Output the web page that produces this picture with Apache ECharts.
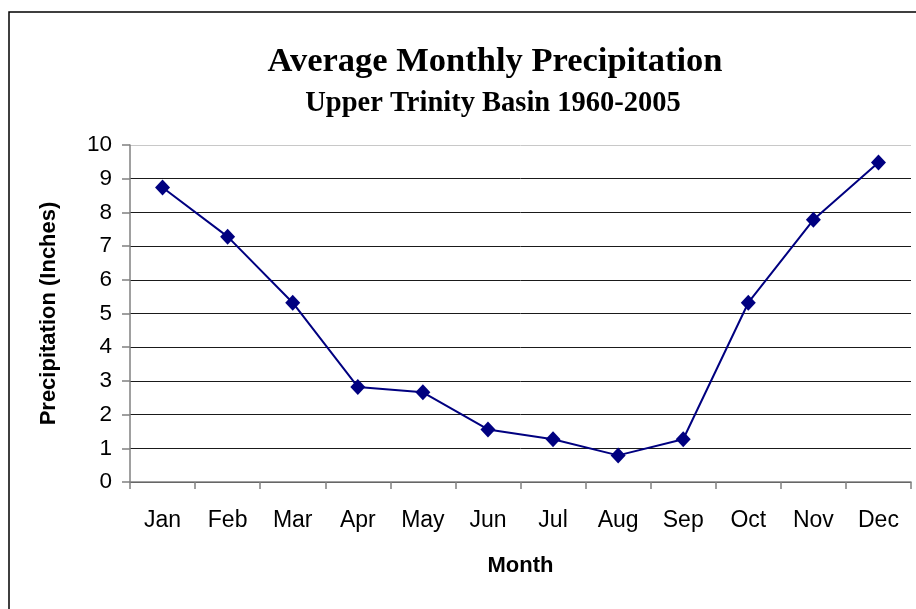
<!DOCTYPE html>
<html>
<head>
<meta charset="utf-8">
<script src="https://cdn.jsdelivr.net/npm/echarts@6/dist/echarts.min.js"></script>
<style>html,body{margin:0;padding:0;background:#fff;}#c{width:916px;height:609px;}</style>
</head>
<body>
<div id="c"></div>
<script>
const months = ['Jan','Feb','Mar','Apr','May','Jun','Jul','Aug','Sep','Oct','Nov','Dec'];
const precipitation = [8.74, 7.28, 5.32, 2.82, 2.66, 1.56, 1.27, 0.79, 1.27, 5.32, 7.78, 9.48];
const yTicks = [0,1,2,3,4,5,6,7,8,9,10];
const titleText = 'Average Monthly Precipitation';
const subtitleText = 'Upper Trinity Basin 1960-2005';

const chart = echarts.init(document.getElementById('c'), null, {renderer:'canvas'});
const gridColors = yTicks.map((v,i)=> i === yTicks.length-1 ? '#c8c8c8' : '#1a1a1a');
chart.setOption({
  animation:false,
  backgroundColor:'#fff',
  graphic:[
    {type:'rect', shape:{x:9,y:12,width:1000,height:700}, style:{fill:'none',stroke:'#000',lineWidth:1.5}, z:0},
    {type:'text', x:495, y:62, style:{text:titleText, font:'bold 34.5px "Liberation Serif"', fill:'#000', textAlign:'center', textVerticalAlign:'middle'}},
    {type:'text', x:493, y:104, style:{text:subtitleText, font:'bold 28.5px "Liberation Serif"', fill:'#000', textAlign:'center', textVerticalAlign:'middle'}}
  ],
  grid:{left:130, right:5, top:145, bottom:127, containLabel:false},
  xAxis:{
    type:'category', data:months, boundaryGap:true,
    name:'Month', nameLocation:'middle', nameGap:73,
    nameTextStyle:{fontFamily:'Liberation Sans', fontWeight:'bold', fontSize:22, color:'#000'},
    axisLine:{lineStyle:{color:'#808080', width:1.5}},
    axisTick:{show:true, interval:0, length:7, alignWithLabel:false, lineStyle:{color:'#808080', width:1.5}},
    axisLabel:{interval:0, margin:27, fontFamily:'Liberation Sans', fontSize:23, color:'#000'},
    splitLine:{show:false}
  },
  yAxis:{
    type:'value', min:0, max:10, interval:1,
    name:'Precipitation (Inches)', nameLocation:'middle', nameGap:70, nameRotate:90,
    nameTextStyle:{fontFamily:'Liberation Sans', fontWeight:'bold', fontSize:22, color:'#000'},
    axisLine:{show:true, lineStyle:{color:'#808080', width:1.5}},
    axisTick:{show:true, length:8, lineStyle:{color:'#808080', width:1.5}},
    axisLabel:{margin:18, fontFamily:'Liberation Sans', fontSize:22.5, color:'#000',
      formatter:(v)=> String(yTicks[yTicks.indexOf(v)])},
    splitLine:{show:true, lineStyle:{color:gridColors, width:1}}
  },
  series:[{
    type:'line', data:precipitation,
    symbol:'diamond', symbolSize:[15,16],
    lineStyle:{color:'#000080', width:2},
    itemStyle:{color:'#000080'},
    z:5
  }]
});
</script>
</body>
</html>
